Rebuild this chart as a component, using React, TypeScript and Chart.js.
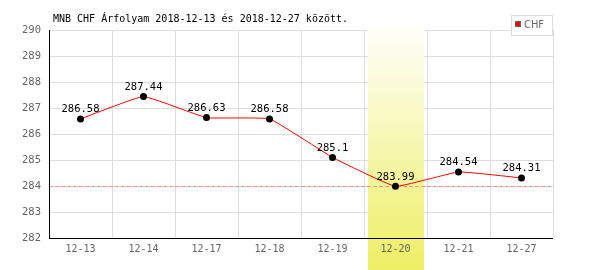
import React, { useEffect, useRef } from "react";
import { Chart, registerables } from "chart.js";

Chart.register(...registerables);

const categories = ["12-13", "12-14", "12-17", "12-18", "12-19", "12-20", "12-21", "12-27"];
const chfValues = [286.58, 287.44, 286.63, 286.58, 285.1, 283.99, 284.54, 284.31];
const valueLabels = ["286.58", "287.44", "286.63", "286.58", "285.1", "283.99", "284.54", "284.31"];
const referenceLevel = 284;
const highlightIndex = 5;
const yMin = 282;
const yMax = 290;
const titleText = "MNB CHF Árfolyam 2018-12-13 és 2018-12-27 között.";
const seriesName = "CHF";

const MONO = "'DejaVu Sans Mono', monospace";

const overlayPlugin = {
  id: "overlay",
  beforeDatasetsDraw(chart: any) {
    const { ctx, chartArea, scales } = chart;
    const xs = scales.x;
    const ys = scales.y;
    // highlight band
    const cx = xs.getPixelForValue(highlightIndex);
    const half = 28;
    const top = 20;
    const bottom = chart.height;
    const g = ctx.createLinearGradient(0, top, 0, bottom);
    g.addColorStop(0, "rgba(255,255,255,1)");
    g.addColorStop(1, "rgba(238,238,100,1)");
    ctx.save();
    ctx.fillStyle = g;
    ctx.fillRect(Math.round(cx - half), top, half * 2, bottom - top);
    // reference dashed line
    const yRef = Math.round(ys.getPixelForValue(referenceLevel)) + 0.5;
    ctx.strokeStyle = "rgba(255,120,120,0.75)";
    ctx.lineWidth = 1;
    ctx.setLineDash([4, 2]);
    ctx.beginPath();
    ctx.moveTo(chartArea.left, yRef);
    ctx.lineTo(chartArea.right, yRef);
    ctx.stroke();
    ctx.setLineDash([]);
    // axis lines
    ctx.strokeStyle = "#000";
    ctx.beginPath();
    ctx.moveTo(Math.round(chartArea.left) + 0.5, chartArea.top);
    ctx.lineTo(Math.round(chartArea.left) + 0.5, chartArea.bottom + 1);
    ctx.moveTo(chartArea.left, Math.round(chartArea.bottom) + 0.5);
    ctx.lineTo(chartArea.right, Math.round(chartArea.bottom) + 0.5);
    ctx.stroke();
    // x labels
    ctx.font = "10px " + MONO;
    ctx.fillStyle = "#666";
    ctx.textAlign = "center";
    ctx.textBaseline = "alphabetic";
    categories.forEach((c, i) => {
      ctx.fillText(c, xs.getPixelForValue(i), 252);
    });
    ctx.restore();
  },
  afterDatasetsDraw(chart: any) {
    const { ctx } = chart;
    const meta = chart.getDatasetMeta(0);
    ctx.save();
    ctx.font = "10.5px " + MONO;
    ctx.fillStyle = "#000";
    ctx.textAlign = "center";
    ctx.textBaseline = "alphabetic";
    meta.data.forEach((pt: any, i: number) => {
      ctx.fillText(valueLabels[i], pt.x, pt.y - 6.5);
    });
    // title
    ctx.font = "10px " + MONO;
    ctx.textAlign = "left";
    ctx.fillText(titleText, 53, 22);
    // legend
    ctx.fillStyle = "#fff";
    ctx.fillRect(511, 15, 41, 20);
    ctx.strokeStyle = "#ddd";
    ctx.lineWidth = 1;
    ctx.strokeRect(511.5, 15.5, 41, 20);
    ctx.fillStyle = "#ff0000";
    ctx.fillRect(515, 21, 6, 6);
    ctx.strokeStyle = "#666";
    ctx.strokeRect(515.5, 21.5, 5, 5);
    ctx.fillStyle = "#666";
    ctx.font = "11px 'Liberation Sans Narrow', 'DejaVu Sans Condensed', sans-serif";
    ctx.textBaseline = "middle";
    ctx.fillText(seriesName, 524, 25.5);
    ctx.restore();
  },
};

export default function App() {
  const ref = useRef<HTMLCanvasElement | null>(null);
  useEffect(() => {
    if (!ref.current) return;
    const chart = new Chart(ref.current, {
      type: "line",
      data: {
        labels: categories,
        datasets: [
          {
            label: seriesName,
            data: chfValues,
            borderColor: "#ff0000",
            borderWidth: 1,
            backgroundColor: "#000",
            pointBackgroundColor: "#000",
            pointBorderColor: "#000",
            pointRadius: 3.5,
            pointBorderWidth: 0,
            tension: 0.1,
            fill: false,
          },
        ],
      },
      options: {
        responsive: false,
        animation: false,
        layout: { padding: { top: 30, right: 47, left: 0, bottom: 0 } },
        plugins: {
          legend: { display: false },
          title: { display: false },
          tooltip: { enabled: false },
        },
        scales: {
          x: {
            offset: true,
            grid: { color: "#dddddd", offset: true, drawTicks: false },
            border: { display: false },
            ticks: { display: false },
            afterFit: (s: any) => {
              s.height = 32;
            },
          },
          y: {
            min: yMin,
            max: yMax,
            grid: { color: "#dddddd", drawTicks: false },
            border: { display: false },
            ticks: { stepSize: 1, color: "#666", font: { family: MONO, size: 10.5 }, padding: 8 },
            afterFit: (s: any) => {
              s.width = 49;
            },
          },
        },
      },
      plugins: [overlayPlugin],
    });
    return () => chart.destroy();
  }, []);
  return (
    <div style={{ position: "fixed", left: 0, top: 0, width: 600, height: 270, background: "#fff" }}>
      <canvas ref={ref} width={600} height={270} style={{ width: 600, height: 270 }} />
    </div>
  );
}
